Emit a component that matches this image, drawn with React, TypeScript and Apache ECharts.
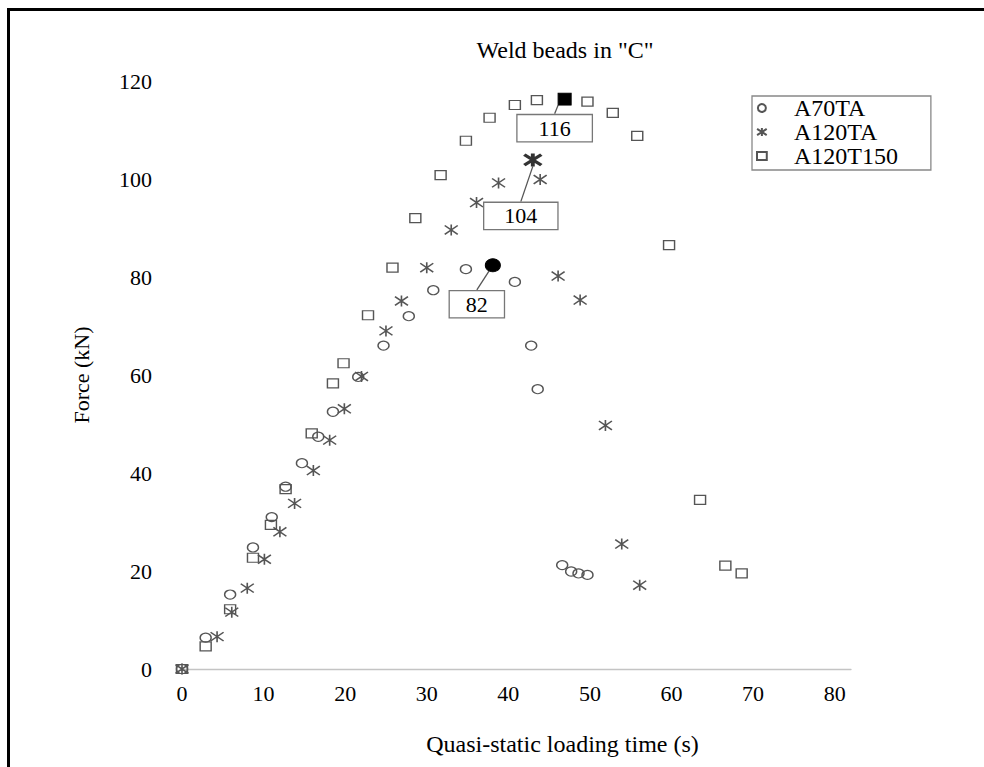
import React, { useEffect, useRef } from "react";
import * as echarts from "echarts";

const chartTitle = 'Weld beads in "C"';
const xAxisName = "Quasi-static loading time (s)";
const yAxisName = "Force (kN)";
const seriesNames = ["A70TA", "A120TA", "A120T150"];

const a70taTime = [0, 2.9, 5.9, 8.7, 11.0, 12.7, 14.7, 16.7, 18.5, 21.6, 24.7, 27.8, 30.8, 34.8, 38.1, 40.8, 42.8, 43.6, 46.6, 47.7, 48.6, 49.7];
const a70taForce = [0, 6.4, 15.2, 24.8, 31.0, 37.2, 42.0, 47.4, 52.5, 59.6, 66.0, 72.0, 77.3, 81.6, 82.4, 79.0, 66.0, 57.1, 21.2, 19.9, 19.5, 19.2];

const a120taTime = [0, 4.3, 6.1, 8.0, 10.1, 12.0, 13.8, 16.1, 18.1, 19.9, 22.0, 25.0, 26.9, 30.0, 33.0, 36.1, 38.8, 43.0, 43.9, 46.1, 48.8, 51.9, 53.9, 56.1];
const a120taForce = [0, 6.6, 11.6, 16.5, 22.4, 28.0, 33.8, 40.5, 46.7, 53.1, 59.7, 69.0, 75.1, 81.9, 89.6, 95.2, 99.2, 103.9, 99.9, 80.2, 75.3, 49.7, 25.5, 17.1];

const a120t150Time = [0, 2.9, 5.9, 8.7, 10.9, 12.7, 15.9, 18.5, 19.8, 22.8, 25.8, 28.6, 31.7, 34.8, 37.7, 40.8, 43.5, 46.9, 49.7, 52.8, 55.8, 59.7, 63.5, 66.6, 68.6];
const a120t150Force = [0, 4.6, 12.2, 22.7, 29.4, 36.7, 48.1, 58.3, 62.4, 72.2, 81.9, 92.0, 100.8, 107.8, 112.5, 115.1, 116.1, 116.3, 115.8, 113.5, 108.8, 86.5, 34.5, 21.1, 19.5];

// index of the maximum-force point of each series (highlighted and labelled)
const peakIndex = [14, 17, 17];

const xTicks = { min: 0, max: 82, interval: 10 };
const yTicks = { min: 0, max: 120, interval: 20 };

const FONT = "Liberation Serif";
const STAR = "path://M0,1L12,9M12,1L0,9M6,0L6,10";
const SQUARE = "path://M0,0L11,0L11,9L0,9Z";

export default function App() {
  const ref = useRef<HTMLDivElement>(null);
  useEffect(() => {
    document.body.style.margin = "0";
    document.body.style.overflow = "hidden";
    if (!ref.current) return;
    const chart = echarts.init(ref.current, undefined, { renderer: "svg" });

    const times = [a70taTime, a120taTime, a120t150Time];
    const forces = [a70taForce, a120taForce, a120t150Force];
    const symbols = ["circle", STAR, SQUARE];
    const sizes: any[] = [[11, 9], [13, 11], [11, 9]];
    const peakSizes: any[] = [[15, 13], [17, 13], [13, 12]];
    const labelOffsets = [
      { dx: -16, dy: 39 },
      { dx: -12, dy: 56 },
      { dx: -10, dy: 29 },
    ];
    const labelPad = [
      [3, 16, 1, 16],
      [3, 20, 1, 20],
      [3, 21, 1, 21],
    ];

    const series = seriesNames.map((name, s) => {
      const data = times[s].map((t, i) => {
        const item: any = { value: [t, forces[s][i]] };
        if (i === peakIndex[s]) {
          item.symbolSize = peakSizes[s];
          item.itemStyle =
            s === 1
              ? { color: "transparent", borderColor: "#333", borderWidth: 3.4 }
              : { color: "#000", borderColor: "#000", borderWidth: 1 };
          item.label = {
            show: true,
            position: "inside",
            formatter: (p: any) => String(Math.round(p.value[1])),
            color: "#000",
            fontFamily: FONT,
            fontSize: 22,
            lineHeight: 22,
            backgroundColor: "#fff",
            borderColor: "#777",
            borderWidth: 1.3,
            padding: labelPad[s],
            textBorderWidth: 0,
          };
          item.labelLine = { show: true, lineStyle: { color: "#555", width: 1.3 } };
        }
        return item;
      });
      return {
        name,
        type: "scatter",
        symbol: symbols[s],
        symbolSize: sizes[s],
        itemStyle: {
          color: "transparent",
          borderColor: "#555",
          borderWidth: s === 1 ? 1.5 : 1.3,
          opacity: 1,
        },
        label: { show: false },
        labelLayout: (p: any) =>
          p.dataIndex === peakIndex[s] ? labelOffsets[s] : {},
        z: 2 + s,
        data,
      };
    });

    chart.setOption({
      animation: false,
      backgroundColor: "#fff",
      textStyle: { fontFamily: FONT },
      title: {
        text: chartTitle,
        left: 560,
        top: 33,
        textAlign: "center",
        textStyle: { fontFamily: FONT, fontSize: 24, fontWeight: "normal", color: "#000" },
      },
      legend: {
        orient: "vertical",
        left: 752,
        top: 96,
        data: seriesNames,
        itemWidth: 24,
        itemHeight: 8,
        itemGap: 0,
        padding: [0, 33, 2, 4],
        borderColor: "#888",
        borderWidth: 1.3,
        backgroundColor: "#fff",
        textStyle: {
          fontFamily: FONT,
          fontSize: 24,
          color: "#000",
          lineHeight: 24,
          padding: [0, 0, 0, 15],
        },
      },
      grid: { left: 182, right: 133, top: 81, bottom: 98 },
      xAxis: {
        type: "value",
        min: xTicks.min,
        max: xTicks.max,
        interval: xTicks.interval,
        name: xAxisName,
        nameLocation: "middle",
        nameGap: 63,
        nameTextStyle: { fontFamily: FONT, fontSize: 24, color: "#000", padding: [0, 0, 0, 92] },
        axisLine: { show: true, lineStyle: { color: "#c4c4c4", width: 1.3 } },
        axisTick: { show: false },
        splitLine: { show: false },
        axisLabel: {
          fontFamily: FONT,
          fontSize: 22,
          color: "#000",
          margin: 13,
          showMaxLabel: false,
          formatter: (v: number) => (v % 10 === 0 ? String(v) : ""),
        },
      },
      yAxis: {
        type: "value",
        min: yTicks.min,
        max: yTicks.max,
        interval: yTicks.interval,
        name: yAxisName,
        nameLocation: "middle",
        nameGap: 90,
        nameTextStyle: { fontFamily: FONT, fontSize: 22, color: "#000" },
        axisLine: { show: false },
        axisTick: { show: false },
        splitLine: { show: false },
        axisLabel: { fontFamily: FONT, fontSize: 22, color: "#000", margin: 30 },
      },
      series,
    });
    return () => chart.dispose();
  }, []);

  return (
    <div style={{ position: "relative", width: 984, height: 767, overflow: "hidden", background: "#fff" }}>
      <div ref={ref} style={{ position: "absolute", left: 0, top: 0, width: 984, height: 767 }} />
      <div
        style={{
          position: "absolute",
          left: 7,
          top: 8,
          width: 1100,
          height: 900,
          borderTop: "3px solid #000",
          borderLeft: "3px solid #000",
          pointerEvents: "none",
        }}
      />
    </div>
  );
}
